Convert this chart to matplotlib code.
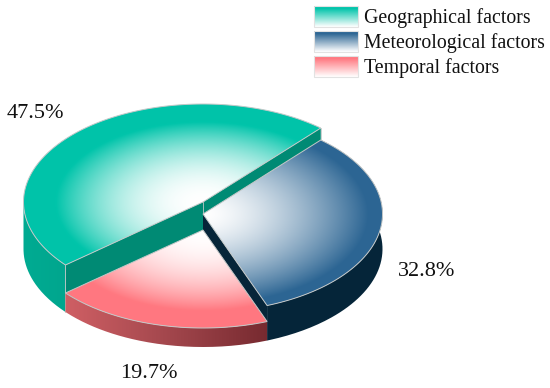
import numpy as np
import matplotlib
matplotlib.use("Agg")
import matplotlib.pyplot as plt
from matplotlib.colors import to_rgb
from matplotlib.patches import PathPatch, Polygon
from matplotlib.path import Path

categories = ["Geographical factors", "Meteorological factors", "Temporal factors"]
shares = [47.5, 32.8, 19.7]
top_colors = ["#00c4aa", "#2c6593", "#ff7880"]

plt.rcParams['font.family'] = ['Liberation Serif', 'DejaVu Serif']

W, H = 550, 388
RX, RY = 179.5, 98
CX, BASE = 203, 249
START = 49
EDGE = "#c4c8c8"

fig = plt.figure(figsize=(W / 100, H / 100), dpi=100)
ax = fig.add_axes([0, 0, 1, 1])

grid_x, grid_y = np.meshgrid(np.arange(0, W, 0.5), np.arange(0, H, 0.5))


def arc(cy, a0, a1, n=120):
    t = np.radians(np.linspace(a0, a1, n))
    return np.column_stack([CX + RX * np.cos(t), cy - RY * np.sin(t)])


def lerp_image(stops, t):
    pos = [s[0] for s in stops]
    rgb = np.array([to_rgb(s[1]) for s in stops])
    return np.dstack([np.interp(t, pos, rgb[:, i]) for i in range(3)])


def show_clipped(img, pts, zorder):
    im = ax.imshow(img, extent=(0, W, H, 0), origin="upper", aspect="auto",
                   interpolation="bilinear", zorder=zorder)
    patch = PathPatch(Path(np.vstack([pts, pts[:1]])), transform=ax.transData)
    im.set_clip_path(patch)


def top_face(cy, a0, a1, color, full, gamma, zorder):
    pts = np.vstack([[CX, cy], arc(cy, a0, a1)])
    r = np.hypot((grid_x - CX) / RX, (grid_y - cy) / RY)
    t = np.clip(r / full, 0, 1) ** gamma
    show_clipped(lerp_image([(0, "#ffffff"), (1, color)], t), pts, zorder)
    ax.add_patch(Polygon(pts, closed=True, fill=False, ec=EDGE, lw=0.7, zorder=zorder + 0.1))


def outer_wall(cy, a0, a1, stops, zorder):
    pts = np.vstack([arc(cy, a0, a1), arc(BASE, a1, a0)])
    xs = arc(cy, a0, a1)[:, 0]
    t = (grid_x - xs.min()) / max(xs.max() - xs.min(), 1)
    show_clipped(lerp_image(stops, t), pts, zorder)


def cut_wall(cy, a, color, zorder):
    p = arc(cy, a, a, 1)[0]
    pts = [[CX, cy], p, [p[0], BASE + (p[1] - cy)], [CX, BASE]]
    ax.add_patch(Polygon(pts, closed=True, fc=color, ec="none", zorder=zorder))


spans = [s * 3.6 for s in shares]
geo = (START, START + spans[0])
met = (START - spans[1], START)
tem = (geo[1], met[0] + 360)

# green is the tallest piece, then blue, then red
geo_y, met_y, tem_y = BASE - 47, BASE - 35, BASE - 19

outer_wall(geo_y, 180, geo[1], [(0, "#00ab92"), (1, "#00a68e")], 1)
cut_wall(geo_y, geo[0], "#008a74", 2)
cut_wall(geo_y, geo[1], "#008a74", 2)
ax.plot([CX, CX], [geo_y, tem_y], color=EDGE, lw=0.6, zorder=2.5)
p = arc(geo_y, geo[1], geo[1], 1)[0]
ax.plot([p[0], p[0]], [p[1], p[1] + 47], color=EDGE, lw=0.6, zorder=2.5)
p = arc(geo_y, geo[0], geo[0], 1)[0]
ax.plot([p[0], p[0]], [p[1], p[1] + 16], color=EDGE, lw=0.6, zorder=2.5)
top_face(geo_y, geo[0], geo[1], top_colors[0], 0.82, 2.1, 3)

outer_wall(met_y, met[0], met[1], [(0, "#062539"), (1, "#062539")], 4)
cut_wall(met_y, met[0], "#062539", 5)
top_face(met_y, met[0], met[1], top_colors[1], 0.92, 1.5, 6)

outer_wall(tem_y, tem[0], tem[1], [(0, "#cf5f64"), (0.45, "#a84a50"), (1, "#772a30")], 7)
top_face(tem_y, tem[0], tem[1], top_colors[2], 0.82, 2.0, 8)

# legend swatches
swatch_tops = [6, 31, 56]
ramp = np.linspace(0, 1, 40)[:, None]
for name, color, top in zip(categories, top_colors, swatch_tops):
    img = lerp_image([(0.1, color), (1, "#ffffff")], ramp)
    ax.imshow(img, extent=(314, 358, top + 21, top), origin="upper", aspect="auto",
              interpolation="bilinear", zorder=9)
    ax.add_patch(Polygon([[314, top], [358, top], [358, top + 21], [314, top + 21]], closed=True,
                         fill=False, ec="#e2e2e2", lw=0.8, zorder=10))
    ax.text(364, top + 12, name, fontsize=14.3, va="center", ha="left", color="#111111")

label_pos = [(35, 114), (427, 271), (149, 373)]
for v, (x, y) in zip(shares, label_pos):
    ax.text(x, y, f"{v}%", fontsize=16, ha="center", va="center", color="#111111")

ax.set_xlim(0, W)
ax.set_ylim(H, 0)
ax.axis("off")
fig.savefig("out.png", dpi=100, facecolor="white")
